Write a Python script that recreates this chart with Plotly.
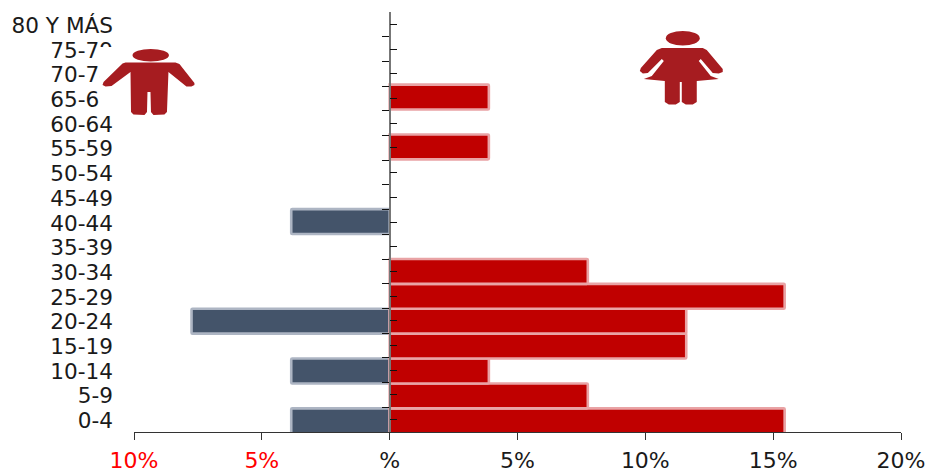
import plotly.graph_objects as go

age_labels = ["0-4", "5-9", "10-14", "15-19", "20-24", "25-29", "30-34", "35-39", "40-44",
              "45-49", "50-54", "55-59", "60-64", "65-69", "70-74", "75-79", "80 Y MÁS"]
men = [-3.85, None, -3.85, None, -7.75, None, None, None, -3.85, None, None, None, None, None, None, None, None]
women = [15.45, 7.75, 3.88, 11.6, 11.6, 15.45, 7.75, None, None, None, None, 3.88, None, 3.88, None, None, None]
x_ticks = [-10, -5, 0, 5, 10, 15, 20]
x_labels = ['<span style="color:#FF0000">10%</span>', '<span style="color:#FF0000">5%</span>',
            "%", "5%", "10%", "15%", "20%"]

W, H = 930, 472
L, R, T, B = 133.5, 901.5, 12, 432
positions = list(range(len(age_labels)))
boundaries = [p - 0.5 for p in positions] + [positions[-1] + 0.5]


def px(x):
    return (x - L) / (R - L)


def py(y):
    return (B - y) / (B - T)


def poly(points):
    return "M " + " L ".join(f"{px(a):.5f},{py(b):.5f}" for a, b in points) + " Z"


MAN = [(122, 63.5), (125, 62.5), (175, 62.5), (179, 64), (194, 83), (194, 85), (191, 86.5), (186, 86.5),
       (168, 72), (166.5, 112), (164, 114.5), (153, 115), (150.5, 112), (150, 92), (147, 92), (146.5, 112),
       (144, 115), (133, 114.5), (130.5, 112), (130, 72), (111, 86), (105, 86.5), (102, 85), (103, 82)]
WOMAN = [(662, 48), (703, 48), (707, 50), (723, 69), (723, 72), (719, 73.5), (713, 73), (701, 59),
         (699, 61), (711, 76), (719, 79), (697, 81), (697, 102), (693, 104.5), (686, 104.5), (682, 102),
         (682, 82), (680, 82), (680, 102), (676, 104.5), (669, 104.5), (665, 102), (665, 81), (644, 79),
         (652, 76), (664, 61), (662, 59), (648, 73), (643, 73.5), (640, 71), (641, 68), (657, 50)]
ICON = "#A61C20"

fig = go.Figure()
fig.add_bar(y=positions, x=men, orientation="h", width=1, offset=-0.5,
            marker=dict(color="#44546A", line=dict(color="#ADB5C3", width=2.6), cornerradius=1))
fig.add_bar(y=positions, x=women, orientation="h", width=1, offset=-0.5,
            marker=dict(color="#C00000", line=dict(color="#E9A3A5", width=2.6), cornerradius=1))
fig.add_scatter(x=[None], y=[None], yaxis="y2", showlegend=False)
fig.add_scatter(x=[None], y=[None], yaxis="y3", showlegend=False)

shapes = [
    dict(type="rect", xref="paper", yref="paper", x0=px(99), x1=px(196), y0=py(116), y1=py(47),
         fillcolor="#FFFFFF", line_width=0, layer="above"),
    dict(type="circle", xref="paper", yref="paper", x0=px(132), x1=px(168.5), y0=py(61.5), y1=py(49),
         fillcolor=ICON, line_width=0, layer="above"),
    dict(type="path", xref="paper", yref="paper", path=poly(MAN), fillcolor=ICON, line_width=0, layer="above"),
    dict(type="circle", xref="paper", yref="paper", x0=px(666), x1=px(700), y0=py(45.5), y1=py(31),
         fillcolor=ICON, line_width=0, layer="above"),
    dict(type="path", xref="paper", yref="paper", path=poly(WOMAN), fillcolor=ICON, line_width=0, layer="above"),
]

fig.update_layout(
    width=W, height=H, barmode="overlay", showlegend=False,
    margin=dict(l=L, r=W - R, t=T, b=H - B, pad=0, autoexpand=False),
    paper_bgcolor="#FFFFFF", plot_bgcolor="#FFFFFF",
    font=dict(family="DejaVu Sans", size=21.6, color="#1A1A1A"),
    shapes=shapes,
    xaxis=dict(range=[-10, 20], tickmode="array", tickvals=x_ticks, ticktext=x_labels,
               showgrid=False, zeroline=False, showline=True, linecolor="#333333", linewidth=1,
               ticks="outside", ticklen=7, tickwidth=1, tickcolor="#333333", ticklabelstandoff=2,
               tickfont=dict(size=22)),
    # bars: this axis carries the bars only; their spacing is a touch wider than the tick spacing
    yaxis=dict(range=[-0.45, 16.417], showgrid=False, zeroline=False, showline=False,
               showticklabels=False, ticks=""),
    # category labels, clear of the chart's left edge
    yaxis2=dict(range=[-0.46, 16.54], overlaying="y", side="left", anchor="x", showgrid=False,
                zeroline=False, showline=False, ticks="", tickmode="array", tickvals=positions,
                ticktext=age_labels, ticklabelstandoff=20),
    # central axis with alternating tick marks
    yaxis3=dict(range=[-0.5, 16.5], overlaying="y", anchor="free", position=1 / 3, showgrid=False,
                zeroline=False, showline=True, linecolor="#777777", linewidth=1.5, showticklabels=False,
                tickmode="array", tickvals=positions, ticks="inside", ticklen=7, tickwidth=1.2,
                tickcolor="#111111",
                minor=dict(tickmode="array", tickvals=boundaries, ticks="outside", ticklen=7,
                           tickwidth=1.2, tickcolor="#111111")),
)

fig.write_html("out.html", config={"displayModeBar": False},
               post_script="document.body.style.margin='0';document.documentElement.style.overflow='hidden';")
